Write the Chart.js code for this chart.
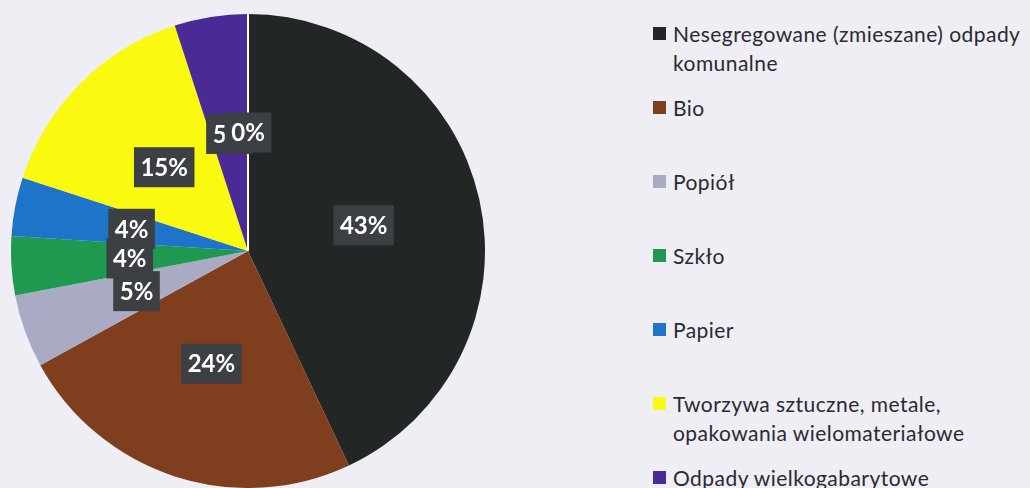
<!DOCTYPE html>
<html>
<head>
<meta charset="utf-8">
<script src="https://cdn.jsdelivr.net/npm/chart.js@4"></script>
<style>
  html, body { margin: 0; padding: 0; width: 1030px; height: 488px; overflow: hidden; background: #eeeef4; }
  #pieBox { position: absolute; left: 11px; top: 14px; width: 474px; height: 474px; }
  #legend { position: absolute; left: 653px; top: 19px; font-family: Lato, "Open Sans", sans-serif; font-size: 21px; letter-spacing: 0.45px; color: #2a2a32; }
  .item { height: 74px; position: relative; padding-left: 20px; line-height: 29px; white-space: nowrap; }
  .item .box { position: absolute; left: 0; top: 8px; width: 13px; height: 13px; }
</style>
</head>
<body>
<div id="pieBox"><canvas id="wastePieChart"></canvas></div>
<div id="legend"></div>
<script>
const labels = [
    ["Nesegregowane (zmieszane) odpady", "komunalne"],
    ["Bio"],
    ["Popiół"],
    ["Szkło"],
    ["Papier"],
    ["Tworzywa sztuczne, metale,", "opakowania wielomateriałowe"],
    ["Odpady wielkogabarytowe"],
    ["Inne"],
];
const shares = [43, 24, 5, 4, 4, 15, 5, 0];
const colors = ["#222624", "#7f3e1e", "#a9abc4", "#1f9950", "#1e74c8", "#fafa10", "#4a2a94", "#ffffff"];

// labels in dark boxes at half radius, plus the white line of the empty slice
const boxLabels = {
    id: "boxLabels",
    afterDatasetsDraw(chart) {
        const ctx = chart.ctx;
        const arcs = chart.getDatasetMeta(0).data;
        ctx.save();
        arcs.forEach((arc, i) => {
            if (shares[i] !== 0) return;
            ctx.strokeStyle = "#ffffff";
            ctx.lineWidth = 2;
            ctx.beginPath();
            ctx.moveTo(arc.x, arc.y);
            ctx.lineTo(arc.x + Math.cos(arc.startAngle) * arc.outerRadius,
                       arc.y + Math.sin(arc.startAngle) * arc.outerRadius);
            ctx.stroke();
        });
        ctx.font = "bold 24px Lato, sans-serif";
        ctx.textAlign = "center";
        ctx.textBaseline = "middle";
        arcs.forEach((arc, i) => {
            const mid = (arc.startAngle + arc.endAngle) / 2;
            const r = arc.outerRadius * 0.5;
            const x = arc.x + Math.cos(mid) * r;
            const y = arc.y + Math.sin(mid) * r;
            const text = shares[i] + "%";
            const w = ctx.measureText(text).width + 13;
            const h = 40;
            ctx.fillStyle = "#3c4044";
            ctx.fillRect(x - w / 2, y - h / 2, w, h);
            ctx.fillStyle = "#ffffff";
            ctx.fillText(text, x, y + 1);
        });
        ctx.restore();
    },
};

const ctx = document.getElementById("wastePieChart").getContext("2d");
const chart = new Chart(ctx, {
    type: "pie",
    data: {
        labels: labels,
        datasets: [
            {
                data: shares,
                backgroundColor: colors,
                borderWidth: 0,
            },
        ],
    },
    options: {
        responsive: true,
        maintainAspectRatio: false,
        animation: false,
        layout: { padding: 0 },
        plugins: {
            legend: { display: false },
            tooltip: { enabled: false },
        },
    },
    plugins: [boxLabels],
});

// legend on the right, one 74px row per category
const legend = document.getElementById("legend");
labels.forEach((lines, i) => {
    const item = document.createElement("div");
    item.className = "item";
    const box = document.createElement("span");
    box.className = "box";
    box.style.background = colors[i];
    item.appendChild(box);
    item.insertAdjacentHTML("beforeend", lines.join("<br>"));
    legend.appendChild(item);
});
</script>
</body>
</html>
